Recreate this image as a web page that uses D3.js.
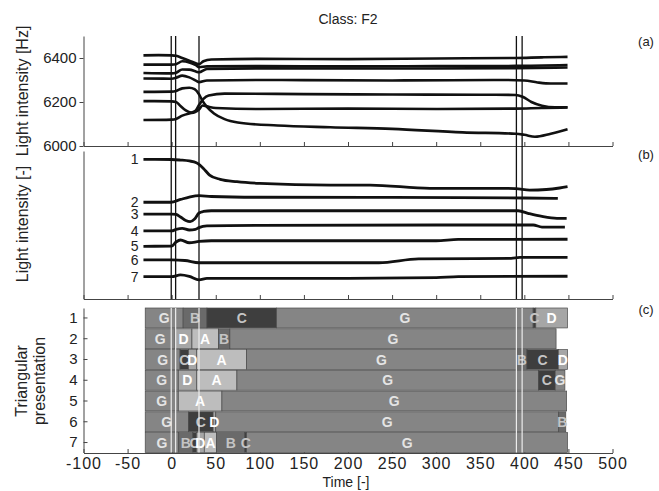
<!DOCTYPE html>
<html><head><meta charset="utf-8">
<script src="https://cdn.jsdelivr.net/npm/d3@7"></script>
<style>
body{margin:0;background:#fff;}
text{font-family:"Liberation Sans",Arial,sans-serif;fill:#222;}
</style></head>
<body><svg id="c" width="659" height="491"></svg>
<script>
// ---------- DATA ----------
const title = "Class: F2";
const xTicks = [-100,-50,0,50,100,150,200,250,300,350,400,450,500];
const yTicksA = [6000,6200,6400];
const events = [-0.5, 4.5, 31, 391, 397.5];

// Panel (a): raw light intensity [Hz]  [time, Hz]
const a1 = [[-32,6412],[-15,6413],[0,6412],[5,6410],[12,6400],[20,6388],[28,6375],[31,6372],[36,6385],[45,6393],[100,6396],[200,6395],[300,6398],[390,6400],[420,6403],[449,6405]];
const a2 = [[-32,6370],[0,6370],[5,6372],[12,6385],[20,6380],[28,6366],[31,6358],[40,6362],[100,6363],[200,6362],[300,6363],[390,6364],[449,6368]];
const a3 = [[-32,6332],[0,6330],[5,6333],[12,6348],[20,6347],[28,6338],[31,6335],[40,6350],[100,6353],[250,6352],[390,6354],[449,6357]];
const a4 = [[-32,6307],[0,6306],[5,6310],[12,6320],[20,6312],[28,6296],[31,6290],[40,6298],[100,6300],[250,6298],[380,6300],[400,6298],[415,6289],[430,6284],[449,6284]];
const a5 = [[-32,6246],[0,6247],[5,6250],[12,6262],[20,6265],[26,6258],[31,6235],[35,6205],[40,6178],[48,6148],[60,6122],[75,6107],[120,6093],[180,6085],[250,6078],[330,6062],[390,6056],[400,6051],[412,6042],[430,6056],[449,6076]];
const a6 = [[-32,6204],[0,6203],[5,6200],[10,6182],[16,6162],[22,6152],[27,6160],[31,6186],[36,6214],[42,6230],[60,6238],[150,6236],[250,6234],[350,6233],[390,6232],[398,6224],[408,6200],[420,6183],[435,6176],[449,6176]];
const a7 = [[-32,6118],[0,6120],[5,6123],[12,6138],[20,6148],[26,6153],[31,6166],[35,6184],[40,6180],[50,6173],[100,6168],[200,6170],[300,6168],[390,6170],[420,6173],[449,6175]];
const seriesA = [a1,a2,a3,a4,a5,a6,a7];

// Panel (b): normalised light intensity [-] (offset per sensor) [time, value]
const b1 = [[-32,7.55],[0,7.54],[10,7.51],[20,7.46],[28,7.37],[32,7.24],[36,7.06],[43,6.70],[55,6.47],[74,6.34],[100,6.25],[180,6.16],[225,6.16],[293,5.98],[368,5.98],[390,5.97],[406,5.89],[425,5.92],[440,6.00],[449,6.07]];
const b2 = [[-32,5.23],[-1,5.23],[10,5.38],[20,5.51],[31,5.59],[45,5.54],[100,5.50],[250,5.49],[400,5.46],[438,5.44]];
const b3 = [[-32,4.59],[0,4.59],[5,4.57],[10,4.43],[16,4.24],[21,4.18],[26,4.32],[31,4.65],[36,4.73],[45,4.77],[200,4.77],[393,4.77],[405,4.62],[420,4.46],[437,4.36],[448,4.36]];
const b4 = [[-32,3.68],[0,3.68],[5,3.76],[12,3.82],[20,3.73],[27,3.76],[31,3.86],[40,3.95],[100,3.98],[300,4.00],[410,4.00],[420,3.89],[446,3.88]];
const b5 = [[-32,2.85],[0,2.86],[5,3.08],[10,3.19],[20,3.04],[31,3.11],[45,3.15],[300,3.15],[325,3.22],[449,3.23]];
const b6 = [[-32,2.11],[0,2.11],[15,2.08],[31,1.96],[60,1.96],[235,1.96],[280,2.17],[385,2.20],[395,2.25],[449,2.25]];
const b7 = [[-32,1.21],[0,1.21],[10,1.30],[20,1.22],[31,1.03],[40,1.11],[200,1.12],[300,1.16],[325,1.21],[449,1.23]];
const seriesB = [b1,b2,b3,b4,b5,b6,b7];
const seriesBLabels = ["1","2","3","4","5","6","7"];

// Panel (c): triangular presentation, segments [letter, start, end]
const rows = [1,2,3,4,5,6,7];
const seg1 = [["G",-30,13],["B",13,40],["C",40,119],["G",119,410],["C",410,413],["D",413,449]];
const seg2 = [["G",-30,4],["D",4,23],["A",23,53],["B",53,66],["G",66,436]];
const seg3 = [["G",-30,9.5],["C",9.5,19],["D",19,28],["A",28,85],["G",85,391],["B",391,403],["C",403,438.5],["D",438.5,449]];
const seg4 = [["G",-30,7.5],["D",7.5,28],["A",28,74],["G",74,416],["C",416,435],["G",435,446]];
const seg5 = [["G",-30,7.5],["A",7.5,57],["G",57,448]];
const seg6 = [["G",-30,19],["C",19,47],["D",47,50],["G",50,439],["B",439,447]];
const seg7 = [["G",-30,8],["B",8,24],["C",24,28],["D",28,37],["A",37,51],["B",51,83],["C",83,85],["G",85,449]];
const segments = [seg1,seg2,seg3,seg4,seg5,seg6,seg7];
const letters = ["G","B","C","D","A"];
const letterFill = ["#858585","#6a6a6a","#3e3e3e","#a6a6a6","#bdbdbd"];
const letterText = ["#e4e4e4","#c4c4c4","#c4c4c4","#ffffff","#ffffff"];

// ---------- CHART ----------
const svg = d3.select("#c");
const x = d3.scaleLinear([-100,500],[83.5,612.5]);
const ya = d3.scaleLinear([6000,6500],[146,36]);
const yb = d3.scaleLinear([0,8],[299,151]);
const yc = d3.scaleBand(rows,[308,452.5]).paddingInner(0.04);
const fillOf = d3.scaleOrdinal(letters, letterFill);
const textOf = d3.scaleOrdinal(letters, letterText);
const plain = d => String(d);

function styleAxis(g){
  g.selectAll("path.domain").attr("stroke","#444").attr("stroke-width",1);
  g.selectAll(".tick line").attr("stroke","#444");
  g.selectAll("text").attr("fill","#222").attr("font-family","Liberation Sans, Arial, sans-serif");
}

// title
svg.append("text").attr("x",348).attr("y",24).attr("text-anchor","middle")
  .attr("font-size",14).text(title);

// ----- panel a -----
svg.append("g").attr("transform",`translate(0,${ya.range()[0]})`)
  .call(d3.axisBottom(x).tickValues(xTicks).tickSize(-4).tickSizeOuter(0).tickFormat(""))
  .call(styleAxis);
svg.append("g").attr("transform",`translate(${x.range()[0]},0)`)
  .call(d3.axisLeft(ya).tickValues(yTicksA).tickFormat(plain).tickSize(4).tickSizeOuter(0).tickPadding(3))
  .call(g=>g.selectAll("text").attr("font-size",15))
  .call(styleAxis);

const lineA = d3.line().x(d=>x(d[0])).y(d=>ya(d[1])).curve(d3.curveMonotoneX);
svg.append("g").selectAll("path").data(seriesA).join("path")
  .attr("d",lineA).attr("fill","none").attr("stroke","#111").attr("stroke-width",2.6)
  .attr("stroke-linejoin","round");

// ----- panel b -----
svg.append("g").attr("transform",`translate(0,${yb.range()[0]})`)
  .call(d3.axisBottom(x).tickValues(xTicks).tickSize(-4).tickSizeOuter(0).tickFormat(""))
  .call(styleAxis);
svg.append("g").attr("transform",`translate(${x.range()[0]},0)`)
  .call(d3.axisLeft(yb).tickValues([]).tickSizeOuter(0))
  .call(styleAxis);

const lineB = d3.line().x(d=>x(d[0])).y(d=>yb(d[1])).curve(d3.curveMonotoneX);
svg.append("g").selectAll("path").data(seriesB).join("path")
  .attr("d",lineB).attr("fill","none").attr("stroke","#111").attr("stroke-width",2.8)
  .attr("stroke-linejoin","round");
svg.append("g").selectAll("text").data(seriesB).join("text")
  .attr("x",d=>x(d[0][0])-5).attr("y",d=>yb(d[0][1])).attr("dy","0.36em")
  .attr("text-anchor","end").attr("font-size",14).text((d,i)=>seriesBLabels[i]);

// event lines a+b
svg.append("g").selectAll("line").data(events).join("line")
  .attr("x1",d=>x(d)).attr("x2",d=>x(d)).attr("y1",ya.range()[1]).attr("y2",yb.range()[0])
  .attr("stroke","#111").attr("stroke-width",1.3);

// ----- panel c -----
svg.append("g").attr("transform",`translate(0,453)`)
  .call(d3.axisBottom(x).tickValues(xTicks).tickFormat(plain).tickSize(-4).tickSizeOuter(0).tickPadding(5))
  .call(g=>g.selectAll("text").attr("font-size",16).attr("letter-spacing","1px"))
  .call(styleAxis);
svg.append("g").attr("transform",`translate(${x.range()[0]},0)`)
  .call(d3.axisLeft(yc).tickSize(-4).tickSizeOuter(0).tickPadding(6))
  .call(g=>g.selectAll("text").attr("font-size",15))
  .call(styleAxis);

const rowG = svg.append("g").selectAll("g").data(segments).join("g")
  .attr("transform",(d,i)=>`translate(0,${yc(rows[i])})`);
rowG.selectAll("rect").data(d=>d).join("rect")
  .attr("x",d=>x(d[1])).attr("width",d=>x(d[2])-x(d[1]))
  .attr("y",0).attr("height",yc.bandwidth())
  .attr("fill",d=>fillOf(d[0])).attr("stroke","#4a4a4a").attr("stroke-width",0.7);
// event lines c (white)
svg.append("g").selectAll("line").data(events).join("line")
  .attr("x1",d=>x(d)).attr("x2",d=>x(d)).attr("y1",yc.range()[0]).attr("y2",yc.range()[1])
  .attr("stroke","#ececec").attr("stroke-width",1.2);
rowG.selectAll("text").data(d=>d).join("text")
  .attr("x",d=>x((d[1]+d[2])/2)).attr("y",yc.bandwidth()/2).attr("dy","0.36em")
  .attr("text-anchor","middle").attr("font-size",14).attr("font-weight","bold")
  .style("fill",d=>textOf(d[0])).text(d=>d[0]);

// axis titles
svg.append("text").attr("x",346).attr("y",487).attr("text-anchor","middle").attr("font-size",14).text("Time [-]");
svg.append("text").attr("transform","translate(28,91) rotate(-90)").attr("text-anchor","middle").attr("font-size",16).text("Light intensity [Hz]");
svg.append("text").attr("transform","translate(28,224) rotate(-90)").attr("text-anchor","middle").attr("font-size",16).text("Light intensity [-]");
svg.append("text").attr("transform","translate(27,381) rotate(-90)").attr("text-anchor","middle").attr("font-size",16).text("Triangular");
svg.append("text").attr("transform","translate(45,381) rotate(-90)").attr("text-anchor","middle").attr("font-size",16).text("presentation");

// panel tags
svg.append("text").attr("x",646).attr("y",46).attr("text-anchor","middle").attr("font-size",13).text("(a)");
svg.append("text").attr("x",646).attr("y",159).attr("text-anchor","middle").attr("font-size",13).text("(b)");
svg.append("text").attr("x",646).attr("y",314).attr("text-anchor","middle").attr("font-size",13).text("(c)");
</script></body></html>
